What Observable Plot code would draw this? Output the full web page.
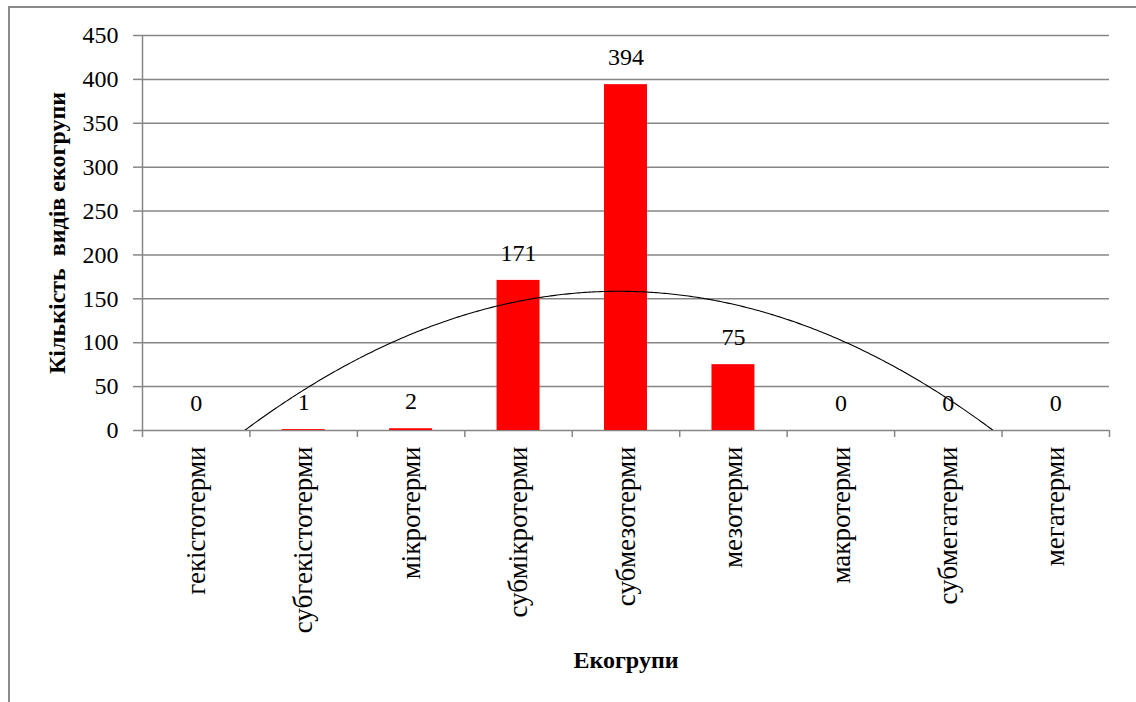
<!DOCTYPE html>
<html>
<head>
<meta charset="utf-8">
<script src="https://cdn.jsdelivr.net/npm/d3@7"></script>
<script src="https://cdn.jsdelivr.net/npm/@observablehq/plot@0.6"></script>
<style>
  html, body { margin: 0; padding: 0; background: #fff; overflow: hidden; }
  #wrap { position: relative; width: 1136px; height: 702px; }
  #border { position: absolute; left: 8px; top: 6px; right: -20px; bottom: -20px;
            border-top: 2px solid #8a8a8a; border-left: 2px solid #8a8a8a; }
  #chart { position: absolute; left: 0; top: 0; }
</style>
</head>
<body>
<div id="wrap"><div id="border"></div><div id="chart"></div></div>
<script>
// Ecogroups (thermal groups) and species counts per group
const categories = ["гекістотерми", "субгекістотерми", "мікротерми", "субмікротерми",
  "субмезотерми", "мезотерми", "макротерми", "субмегатерми", "мегатерми"];
const counts = [0, 1, 2, 171, 394, 75, 0, 0, 0];
const yTicks = [0, 50, 100, 150, 200, 250, 300, 350, 400, 450];

const data = categories.map((name, k) => ({i: k + 1, name, value: counts[k]}));

// Second-order polynomial trend (least squares), as in a spreadsheet trendline
function polyFit2(xs, ys) {
  let s = [0, 0, 0, 0, 0], t = [0, 0, 0];
  xs.forEach((x, k) => {
    for (let p = 0; p <= 4; p++) s[p] += x ** p;
    for (let p = 0; p <= 2; p++) t[p] += ys[k] * x ** p;
  });
  const A = [[s[0], s[1], s[2], t[0]], [s[1], s[2], s[3], t[1]], [s[2], s[3], s[4], t[2]]];
  for (let c = 0; c < 3; c++) {
    for (let r = c + 1; r < 3; r++) {
      const f = A[r][c] / A[c][c];
      for (let k = c; k < 4; k++) A[r][k] -= f * A[c][k];
    }
  }
  const b = [0, 0, 0];
  for (let r = 2; r >= 0; r--) {
    let v = A[r][3];
    for (let k = r + 1; k < 3; k++) v -= A[r][k] * b[k];
    b[r] = v / A[r][r];
  }
  return x => b[0] + b[1] * x + b[2] * x * x;
}
const trend = polyFit2(data.map(d => d.i), data.map(d => d.value));
const trendPts = d3.range(0.5, 9.5001, 0.02).map(x => ({x, y: trend(x)}));

const boundaries = d3.range(0.5, categories.length + 1, 1);
const gridColor = "#868686";
const barHalf = 0.2;

const chart = Plot.plot({
  width: 1136,
  height: 702,
  marginLeft: 142,
  marginRight: 27,
  marginTop: 35,
  marginBottom: 272,
  x: {type: "linear", domain: [0.5, categories.length + 0.5]},
  y: {domain: [0, 450]},
  style: {fontFamily: "'Liberation Serif', 'Times New Roman', serif", fontSize: "24px", background: "transparent", color: "#000"},
  marks: [
    Plot.gridY(yTicks, {stroke: gridColor, strokeOpacity: 1, strokeWidth: 1.5}),
    Plot.axisY(yTicks, {tickSize: 9, tickPadding: 15, stroke: gridColor, strokeWidth: 1.5, fill: "#000", fontSize: 24, label: null}),
    Plot.ruleX([0.5], {stroke: gridColor, strokeWidth: 1.5}),
    Plot.axisX(boundaries, {tickSize: 7, tickFormat: () => "", stroke: gridColor, strokeWidth: 1.5, label: null}),
    Plot.rectY(data, {x1: d => d.i - barHalf, x2: d => d.i + barHalf, y1: 0, y2: "value", fill: "#ff0000"}),
    Plot.line(trendPts, {x: "x", y: "y", stroke: "#000", strokeWidth: 1.1, clip: true}),
    Plot.text(data, {x: "i", y: "value", text: d => String(d.value), dy: -27, lineAnchor: "middle", fontSize: 24, fill: "#000"}),
    Plot.text(data, {x: "i", frameAnchor: "bottom", text: "name", rotate: -90, textAnchor: "end", lineAnchor: "middle", dy: 16, fontSize: 27, fill: "#000"}),
    Plot.text(["Кількість  видів екогрупи"], {frameAnchor: "left", dx: -85, rotate: -90, textAnchor: "middle", lineAnchor: "middle", fontWeight: "bold", fontSize: 24, fill: "#000"}),
    Plot.text(["Екогрупи"], {frameAnchor: "bottom", textAnchor: "middle", lineAnchor: "middle", dy: 230, fontWeight: "bold", fontSize: 24, fill: "#000"})
  ]
});
document.getElementById("chart").appendChild(chart);
</script>
</body>
</html>
